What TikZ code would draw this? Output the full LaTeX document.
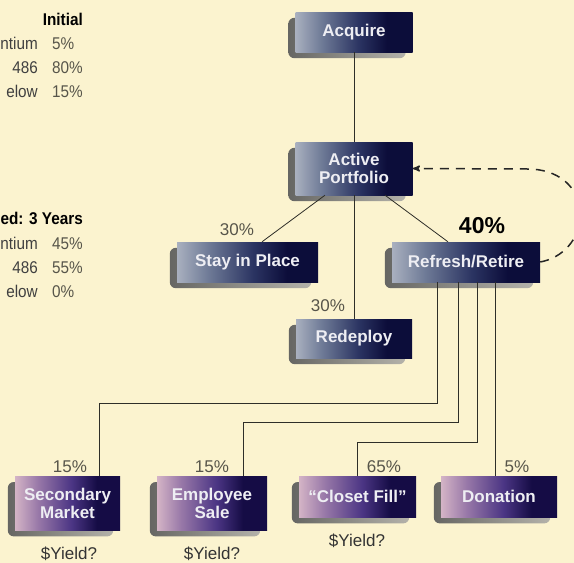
\documentclass[tikz,border=0pt]{standalone}
\usepackage{fontspec}
\setmainfont{Liberation Sans}
\newfontfamily\narrowsans{Liberation Sans}[FakeStretch=0.9]
\usepackage{tikz}
\usetikzlibrary{calc}
\usetikzlibrary{arrows}
\usetikzlibrary{positioning,backgrounds}
\definecolor{paper}{HTML}{FBF3CF}
\definecolor{navyA}{HTML}{A9B0BF}
\definecolor{navyB}{HTML}{6F7B97}
\definecolor{navyC}{HTML}{2B3462}
\definecolor{navyD}{HTML}{0C0D3A}
\definecolor{plumA}{HTML}{D4B4C6}
\definecolor{plumB}{HTML}{9878A8}
\definecolor{plumC}{HTML}{4B3584}
\definecolor{plumD}{HTML}{150C45}
\definecolor{shadeA}{HTML}{666663}
\definecolor{shadeB}{HTML}{B4B2AA}
\definecolor{boxtext}{HTML}{EEEEF3}
\definecolor{pcttext}{HTML}{57554A}
\definecolor{wire}{HTML}{2E2E28}
\pgfdeclarehorizontalshading{navyfade}{100bp}{color(0bp)=(navyA); color(25bp)=(navyA); color(36bp)=(navyB); color(52bp)=(navyC); color(64bp)=(navyD); color(75bp)=(navyD); color(100bp)=(navyD)}
\pgfdeclarehorizontalshading{plumfade}{100bp}{color(0bp)=(plumA); color(25bp)=(plumA); color(36bp)=(plumB); color(52bp)=(plumC); color(64bp)=(plumD); color(75bp)=(plumD); color(100bp)=(plumD)}

\begin{document}
\begin{tikzpicture}[x=1pt,y=-1pt,node distance=10pt,on grid,>=stealth',
		box/.style={rectangle,shade,shading=navyfade,text=boxtext,inner sep=0pt,align=center,
			font=\fontsize{17}{18}\selectfont\bfseries},
		leaf/.style={box,shading=plumfade},
		pct/.style={anchor=base,text=pcttext,font=\fontsize{17}{18}\selectfont},
		side/.style={inner sep=0pt,text=black!75,font=\narrowsans\fontsize{17}{18}\selectfont},
		sidehead/.style={inner sep=0pt,anchor=base east,font=\narrowsans\fontsize{17}{18}\selectfont\bfseries},
		sideval/.style={inner sep=0pt,anchor=base west,text=pcttext,font=\narrowsans\fontsize{17}{18}\selectfont},
		wire/.style={draw=wire,line width=0.8pt},
		loopback/.style={draw=black!85,line width=1.5pt,dash pattern=on 9pt off 7pt,->}]
		\useasboundingbox (0,0) rectangle (574,563);
		
		\node[sidehead] (init) at (83,25) {Initial};
		\node[side,anchor=base east] (pa1) at (38,49) {ntium};
		\node[side,anchor=base east] (pb1) at (38,73) {486};
		\node[side,anchor=base east] (pc1) at (38,97) {elow};
		\node[sideval] (va1) at (52,49) {5\%};
		\node[sideval] (vb1) at (52,73) {80\%};
		\node[sideval] (vc1) at (52,97) {15\%};
		\node[sidehead] (later) at (83,224) {ed: 3 Years};
		\node[side,anchor=base east] (pa2) at (38,249) {ntium};
		\node[side,anchor=base east] (pb2) at (38,273) {486};
		\node[side,anchor=base east] (pc2) at (38,297) {elow};
		\node[sideval] (va2) at (52,249) {45\%};
		\node[sideval] (vb2) at (52,273) {55\%};
		\node[sideval] (vc2) at (52,297) {0\%};
		
		\node[box,minimum width=117pt,minimum height=40pt] (acq) at (354,32) {Acquire};
		\node[box,minimum width=117pt,minimum height=53pt] (ap) [below=136.5pt of acq] {Active\\Portfolio};
		\node[box,minimum width=141pt,minimum height=40pt] (stay) [below left=93.5pt and 106.5pt of ap] {Stay in Place};
		\node[box,minimum width=148pt,minimum height=40pt] (ref) [below right=93.5pt and 112pt of ap] {Refresh/Retire};
		\node[box,minimum width=116pt,minimum height=39pt] (redep) [below=170pt of ap] {Redeploy};
		
		\node[leaf,minimum width=105pt,minimum height=54pt,anchor=north] (sec) at (67.5,476) {Secondary\\Market};
		\node[leaf,minimum width=110pt,minimum height=54pt,anchor=north] (emp) at (212,476) {Employee\\Sale};
		\node[leaf,minimum width=117pt,minimum height=41pt,anchor=north] (clo) at (357.5,476) {``Closet Fill''};
		\node[leaf,minimum width=116pt,minimum height=41pt,anchor=north] (don) at (499,476) {Donation};
		
		\node[pct] (pstay) at (237,235) {30\%};
		\node[pct] (predep) at (328,311) {30\%};
		\node[pct,text=black,font=\fontsize{23}{24}\selectfont\bfseries] (pref) at (482,233) {40\%};
		\node[pct] (psec) at (70,472) {15\%};
		\node[pct] (pemp) at (212,472) {15\%};
		\node[pct] (pclo) at (384,472) {65\%};
		\node[pct] (pdon) at (517,472) {5\%};
		\node[pct,text=black!80,inner sep=0pt] (ysec) at (69,559) {\$Yield?};
		\node[pct,text=black!80,inner sep=0pt] (yemp) at (212,559) {\$Yield?};
		\node[pct,text=black!80] (yclo) at (357,546) {\$Yield?};
		
		\draw[wire] (acq) -- (ap);
		\draw[wire] (ap) -- (redep);
		\draw[wire] ($(ap.south)+(-29,0)$) -- ($(stay.north)+(14.5,0)$);
		\draw[wire] ($(ap.south)+(31,0)$) -- ($(ref.north)+(-18,0)$);
		
		\coordinate (r1) at ($(ref.south)+(-29,0)$);
		\coordinate (r2) at ($(ref.south)+(-8,0)$);
		\coordinate (r3) at ($(ref.south)+(11,0)$);
		\coordinate (r4) at ($(ref.south)+(29,0)$);
		\draw[wire] (r1) -- ++(0,121) -| ($(sec.north)+(31.5,0)$);
		\draw[wire] (r2) -- ++(0,140) -| ($(emp.north)+(31,0)$);
		\draw[wire] (r3) -- ++(0,160) -| (clo.north);
		\draw[wire] (r4) -- (r4 |- don.north);
		
		\draw[loopback] (ref.east) .. controls (562,258) and (580,240) .. (580,215)
			.. controls (580,185) and (556,169) .. (528,169) -- (ap.east);
		
		\begin{scope}[on background layer]
			\fill[paper] (0,0) rectangle (574,563);
			\foreach \n in {acq,ap,stay,ref,redep,sec,emp,clo,don}
				\shade[left color=shadeA,right color=shadeB,rounded corners=6pt]
					($(\n.north west)+(-7,6)$) rectangle ($(\n.south east)+(-7,6)$);
		\end{scope}
\end{tikzpicture}
\end{document}
